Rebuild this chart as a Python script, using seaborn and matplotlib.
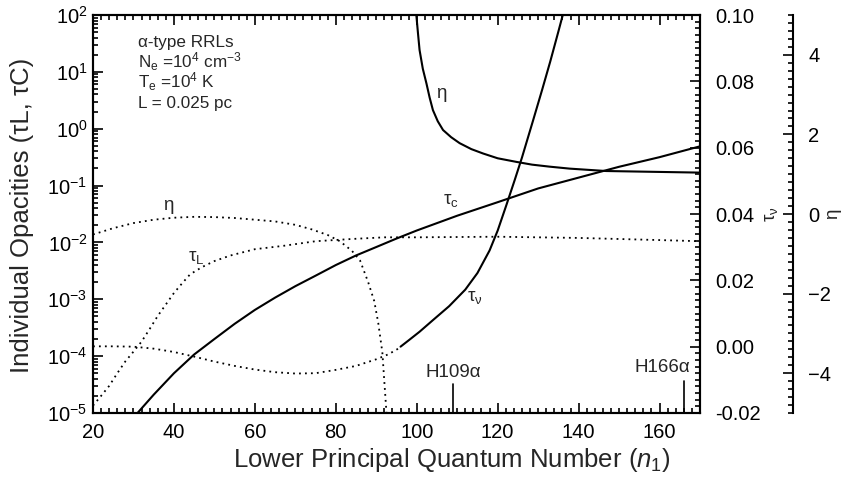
import matplotlib
matplotlib.use("Agg")
import matplotlib.pyplot as plt
from matplotlib.ticker import MultipleLocator, LogLocator, NullFormatter, LogFormatterSciNotation, FormatStrFormatter
import seaborn as sns

# Continuum opacity tau_c (left, log axis)
n_tauc = [31, 35, 40, 45, 50, 55, 60, 65, 70, 75, 80, 85, 90, 95, 100,
          110, 120, 130, 140, 150, 160, 170]
tauc = [1.0e-5, 2.1e-5, 5.0e-5, 1.07e-4, 2.0e-4, 3.7e-4, 6.5e-4, 1.07e-3,
        1.7e-3, 2.6e-3, 4.0e-3, 5.9e-3, 8.3e-3, 0.0117, 0.0162,
        0.0295, 0.051, 0.089, 0.138, 0.214, 0.316, 0.49]

# Line opacity tau_L (left, log axis)
n_taul = [20, 22, 24, 26, 28, 30, 32, 34, 36, 38, 40, 42, 44, 47, 50, 54,
          60, 67, 75, 84, 92, 100, 120, 140, 160, 170]
taul = [1.35e-5, 2.0e-5, 3.0e-5, 5.0e-5, 8.1e-5, 1.2e-4, 1.8e-4, 3.0e-4,
        5.1e-4, 8.1e-4, 1.29e-3, 1.9e-3, 2.75e-3, 3.7e-3, 4.7e-3, 5.9e-3,
        7.6e-3, 8.7e-3, 0.0105, 0.0115, 0.0123, 0.0123, 0.0126, 0.012,
        0.011, 0.0105]

# eta on the log axis (dotted branch)
n_eta_log = [20, 25, 30, 35, 40, 45, 50, 55, 60, 65, 70, 74, 78, 81, 84,
             86, 88, 89.5, 90.5, 91.5, 92.0, 92.5, 93.0]
eta_log = [0.0138, 0.0178, 0.0219, 0.0251, 0.0272, 0.0282, 0.0279, 0.0269,
           0.0251, 0.0234, 0.0204, 0.0170, 0.0135, 0.0105, 0.0071, 0.0048,
           0.0020, 9.3e-4, 3.8e-4, 1.17e-4, 3.5e-5, 1.07e-5, 2.5e-6]

# Total optical depth tau_nu (middle axis): dotted below n~96, solid above
n_taunu_low = [20, 25, 30, 35, 40, 45, 50, 55, 60, 65, 70, 75, 80, 85, 90, 93, 96]
taunu_low = [0.0001, 0.0001, 0.0000, -0.0006, -0.0016, -0.0030, -0.0045,
             -0.0058, -0.0069, -0.0077, -0.0081, -0.0080, -0.0070, -0.0058,
             -0.0038, -0.0023, -0.0002]
n_taunu = [96, 98, 100.7, 104, 108, 112, 115, 118, 120, 122.1, 124.2, 126,
           128.7, 131, 133, 135, 136.2]
taunu = [0.0, 0.0019, 0.0045, 0.0080, 0.0122, 0.0172, 0.0222, 0.0290,
         0.0350, 0.0425, 0.0502, 0.0570, 0.0680, 0.0775, 0.0860, 0.0950,
         0.1005]

# eta on its own linear axis (solid branch)
n_eta = [99.6, 99.9, 100.3, 100.7, 101.5, 102.4, 103.2, 104, 105.2, 106.5,
         108.5, 110.6, 113.5, 116.4, 120, 124.6, 128.5, 132.8, 137.8,
         146.8, 158.3, 170]
eta = [5.6, 5.0, 4.55, 4.12, 3.65, 3.28, 2.92, 2.61, 2.33, 2.11, 1.93,
       1.78, 1.63, 1.52, 1.40, 1.31, 1.24, 1.19, 1.14, 1.08, 1.06, 1.04]

x_ticks = [20, 40, 60, 80, 100, 120, 140, 160]
taunu_ticks = [-0.02, 0.00, 0.02, 0.04, 0.06, 0.08, 0.10]
eta_ticks = [-4, -2, 0, 2, 4]

sns.set_theme(style="ticks")
plt.rcParams["font.family"] = ["Liberation Sans", "DejaVu Sans"]
plt.rcParams["mathtext.fontset"] = "custom"
plt.rcParams["mathtext.rm"] = "Liberation Sans"
plt.rcParams["mathtext.it"] = "Liberation Sans:italic"
plt.rcParams["mathtext.bf"] = "Liberation Sans:bold"
plt.rcParams["axes.edgecolor"] = "black"
plt.rcParams["axes.linewidth"] = 1.5

fig = plt.figure(figsize=(8.42, 4.78), dpi=100)
ax = fig.add_axes([93 / 842, 1 - 413 / 478, 607 / 842, 398 / 478])
ax2 = ax.twinx()
ax3 = ax.twinx()

solid = dict(color="black", linewidth=1.5, estimator=None, sort=False)
dotted = dict(color="black", linewidth=1.3, linestyle=(0, (1, 2.3)),
              estimator=None, sort=False)

sns.lineplot(x=n_tauc, y=tauc, ax=ax, **solid)
sns.lineplot(x=n_taul, y=taul, ax=ax, **dotted)
sns.lineplot(x=n_eta_log, y=eta_log, ax=ax, **dotted)
sns.lineplot(x=n_taunu_low, y=taunu_low, ax=ax2, **dotted)
sns.lineplot(x=n_taunu, y=taunu, ax=ax2, **solid)
sns.lineplot(x=n_eta, y=eta, ax=ax3, **solid)

TICK_FS = 14.5
AXLBL_FS = 18.5

# Main (log) axis
ax.set_xlim(20, 170)
ax.set_yscale("log")
ax.set_ylim(1e-5, 1e2)
ax.set_xticks(x_ticks)
ax.xaxis.set_minor_locator(MultipleLocator(2))
ax.yaxis.set_major_locator(LogLocator(base=10, numticks=20))
ax.yaxis.set_minor_locator(LogLocator(base=10, subs=range(2, 10), numticks=100))
ax.yaxis.set_minor_formatter(NullFormatter())
ax.yaxis.set_major_formatter(LogFormatterSciNotation())
ax.tick_params(axis="both", which="both", direction="in", colors="black",
               labelsize=TICK_FS, top=True, right=False, width=1.2)
ax.tick_params(axis="both", which="major", length=7)
ax.tick_params(axis="both", which="minor", length=3.5)
ax.tick_params(axis="x", pad=7)
ax.tick_params(axis="y", pad=4)
ax.set_xlabel("Lower Principal Quantum Number ($\\mathit{n}_\\mathit{1}$)",
              fontsize=AXLBL_FS)
ax.xaxis.set_label_coords(0.591, -0.083)
ax.set_ylabel("Individual Opacities (τL, τC)", fontsize=AXLBL_FS)
ax.yaxis.set_label_coords(-0.098, 0.497)
for sp in ax.spines.values():
    sp.set_linewidth(1.5)
    sp.set_color("black")

# tau_nu axis
ax2.set_ylim(-0.02, 0.10)
ax2.set_yticks(taunu_ticks)
ax2.yaxis.set_major_formatter(FormatStrFormatter("%.2f"))
ax2.yaxis.set_minor_locator(MultipleLocator(0.002))
ax2.tick_params(axis="y", which="both", direction="in", colors="black",
                labelsize=TICK_FS, left=False, right=True, width=1.2, pad=11)
ax2.tick_params(axis="y", which="major", length=7)
ax2.tick_params(axis="y", which="minor", length=3.5)
ax2.set_ylabel("τ$_\\mathregular{ν}$", fontsize=13.5)
ax2.yaxis.set_label_coords(1.103, 0.5)
ax2.set_xlim(20, 170)

# eta axis
ax3.set_ylim(-5, 5)
ax3.set_yticks(eta_ticks)
ax3.yaxis.set_minor_locator(MultipleLocator(0.2))
ax3.spines["right"].set_position(("axes", 1.153))
for side in ("top", "bottom", "left"):
    ax3.spines[side].set_visible(False)
ax3.spines["right"].set_linewidth(1.5)
ax3.patch.set_visible(False)
ax3.tick_params(axis="y", which="both", direction="in", colors="black",
                labelsize=TICK_FS, left=False, right=True, width=1.2, pad=11)
ax3.tick_params(axis="y", which="major", length=7)
ax3.tick_params(axis="y", which="minor", length=3.5)
ax3.set_ylabel("η", fontsize=13.5)
ax3.yaxis.set_label_coords(1.205, 0.5)
ax3.set_xlim(20, 170)

# Curve labels
LBL_FS = 13.5
ax.text(38.5, 0.045, "η", fontsize=LBL_FS, ha="center", va="center")
ax.text(45.6, 0.0055, "τ$_\\mathregular{L}$", fontsize=LBL_FS, ha="center", va="center")
ax.text(108.5, 0.055, "τ$_\\mathregular{c}$", fontsize=LBL_FS, ha="center", va="center")
ax.text(114.3, 1.07e-3, "τ$_\\mathregular{ν}$", fontsize=LBL_FS, ha="center", va="center")
ax.text(106.1, 4.2, "η", fontsize=LBL_FS, ha="center", va="center")

# Model parameters
params = ["α-type RRLs",
          "N$_\\mathregular{e}$ =10$^\\mathregular{4}$ cm$^\\mathregular{-3}$",
          "T$_\\mathregular{e}$ =10$^\\mathregular{4}$ K",
          "L = 0.025 pc"]
for txt, yy in zip(params, [0.920, 0.867, 0.817, 0.766]):
    ax.text(0.074, yy, txt, transform=ax.transAxes, fontsize=12.3,
            ha="left", va="baseline")

# Marked transitions
ax.plot([109, 109], [1e-5, 3.24e-5], color="black", linewidth=1.2)
ax.text(109, 5.1e-5, "H109α", fontsize=LBL_FS, ha="center", va="center")
ax.plot([166, 166], [1e-5, 3.6e-5], color="black", linewidth=1.2)
ax.text(160.8, 6.3e-5, "H166α", fontsize=LBL_FS, ha="center", va="center")

fig.savefig("out.png", dpi=100)
